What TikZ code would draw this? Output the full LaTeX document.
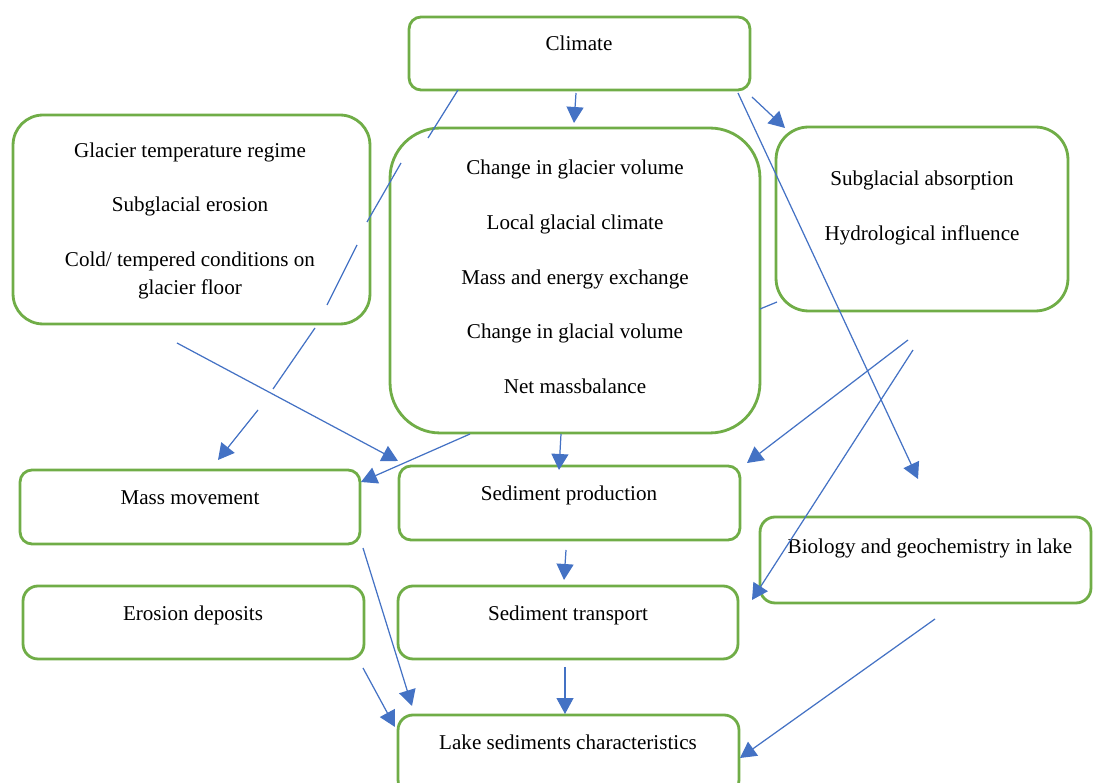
\documentclass[tikz,border=0pt]{standalone}
\usepackage{fontspec}
\setmainfont{Liberation Serif}
\usepackage{xcolor}
\usetikzlibrary{arrows.meta}
\definecolor{boxgreen}{HTML}{70AD47}
\definecolor{arrowblue}{HTML}{4472C4}

\begin{document}
\begin{tikzpicture}[x=0.02cm, y=-0.02cm,
  panel/.style={draw=boxgreen, line width=1.6pt, rounded corners=#1, inner sep=0pt},
  panel/.default=0.24cm,
  txt/.style={font=\fontsize{12}{16}\selectfont, align=center, inner sep=0pt},
  arr/.style={-{Triangle[length=0.32cm, width=0.34cm]}, arrowblue, line width=0.7pt},
  link/.style={arrowblue, line width=0.7pt},
  ]
  \useasboundingbox (0,0) rectangle (1093,783);

  % boxes
  \node[panel, minimum width=6.82cm, minimum height=1.46cm] (climate) at (579.5,53.5) {};
  \node[panel=0.6cm, minimum width=7.14cm, minimum height=4.18cm] (regime) at (191.5,219.5) {};
  \node[panel=1cm, minimum width=7.4cm, minimum height=6.1cm] (glacier) at (575,280.5) {};
  \node[panel=0.65cm, minimum width=5.84cm, minimum height=3.68cm] (hydro) at (922,219) {};
  \node[panel, minimum width=6.8cm, minimum height=1.48cm] (mass) at (190,507) {};
  \node[panel, minimum width=6.82cm, minimum height=1.48cm] (prod) at (569.5,503) {};
  \node[panel=0.3cm, minimum width=6.62cm, minimum height=1.72cm] (bio) at (925.5,560) {};
  \node[panel=0.3cm, minimum width=6.82cm, minimum height=1.46cm] (erosion) at (193.5,622.5) {};
  \node[panel=0.3cm, minimum width=6.8cm, minimum height=1.46cm] (transport) at (568,622.5) {};
  \node[panel=0.3cm, minimum width=6.82cm, minimum height=1.6cm] (lake) at (568.5,755) {};

  % texts
  \node[txt, anchor=base] (climate-t) at (579,51) {Climate};
  \node[txt, anchor=north] (regime-t) at (190,142.5) {Glacier temperature regime\\[14.6pt]Subglacial erosion\\[15.2pt]Cold/ tempered conditions on\\glacier floor};
  \node[txt, anchor=north] (glacier-t) at (575,159.5) {Change in glacier volume\\[15.2pt]Local glacial climate\\[15.2pt]Mass and energy exchange\\[15.2pt]Change in glacial volume\\[15.2pt]Net massbalance};
  \node[txt, anchor=north] (hydro-t) at (922,170.5) {Subglacial absorption\\[15.2pt]Hydrological influence};
  \node[txt, anchor=base] (mass-t) at (190,505) {Mass movement};
  \node[txt, anchor=base] (prod-t) at (569,501) {Sediment production};
  \node[txt, anchor=base] (bio-t) at (930,554) {Biology and geochemistry in lake};
  \node[txt, anchor=base] (erosion-t) at (193,621) {Erosion deposits};
  \node[txt, anchor=base] (transport-t) at (568,621) {Sediment transport};
  \node[txt, anchor=base] (lake-t) at (568,750) {Lake sediments characteristics};

  % arrow ends
  \coordinate (cg1) at (576,93);   \coordinate (cg2) at (574,123);
  \coordinate (ch1) at (752,97);   \coordinate (ch2) at (785,128);
  \coordinate (cl1) at (738,93);   \coordinate (cl2) at (918,479);
  \coordinate (cm1) at (458,90);   \coordinate (cm2) at (428,138);
  \coordinate (cm3) at (401,163);  \coordinate (cm4) at (367,222);
  \coordinate (cm5) at (357,245);  \coordinate (cm6) at (327,305);
  \coordinate (cm7) at (315,328);  \coordinate (cm8) at (273,389);
  \coordinate (cm9) at (258,410);  \coordinate (cm10) at (218,460);
  \coordinate (rp1) at (177,343);  \coordinate (rp2) at (398,461);
  \coordinate (gm1) at (470,434);  \coordinate (gm2) at (361,482);
  \coordinate (gp1) at (561,434);  \coordinate (gp2) at (559,470);
  \coordinate (gh1) at (760,309);  \coordinate (gh2) at (777,302);
  \coordinate (hp1) at (908,340);  \coordinate (hp2) at (747,463);
  \coordinate (ht1) at (913,350);  \coordinate (ht2) at (752,600);
  \coordinate (pt1) at (566,550);  \coordinate (pt2) at (564,580);
  \coordinate (ml1) at (363,548);  \coordinate (ml2) at (412,706);
  \coordinate (el1) at (363,668);  \coordinate (el2) at (395,727);
  \coordinate (tl1) at (565,667);  \coordinate (tl2) at (565,714);
  \coordinate (bl1) at (935,619);  \coordinate (bl2) at (740,758);

  % connectors
  \draw[arr] (cg1) -- (cg2);
  \draw[arr] (ch1) -- (ch2);
  \draw[arr] (cl1) -- (cl2);
  \draw[link] (cm1) -- (cm2);
  \draw[link] (cm3) -- (cm4);
  \draw[link] (cm5) -- (cm6);
  \draw[link] (cm7) -- (cm8);
  \draw[arr] (cm9) -- (cm10);
  \draw[arr] (rp1) -- (rp2);
  \draw[arr] (gm1) -- (gm2);
  \draw[arr] (gp1) -- (gp2);
  \draw[link] (gh1) -- (gh2);
  \draw[arr] (hp1) -- (hp2);
  \draw[arr] (ht1) -- (ht2);
  \draw[arr] (pt1) -- (pt2);
  \draw[arr] (ml1) -- (ml2);
  \draw[arr] (el1) -- (el2);
  \draw[arr] (tl1) -- (tl2);
  \draw[arr] (bl1) -- (bl2);
\end{tikzpicture}
\end{document}
